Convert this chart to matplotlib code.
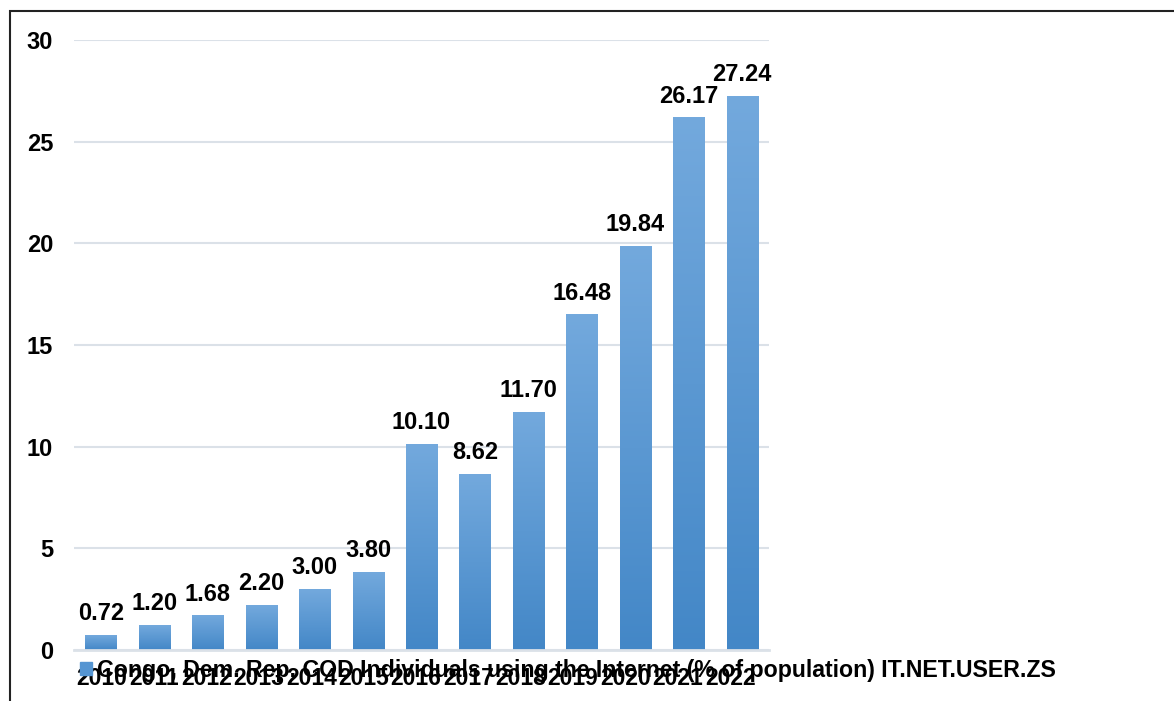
import numpy as np
import matplotlib
matplotlib.use('Agg')
import matplotlib.pyplot as plt
from matplotlib.colors import LinearSegmentedColormap
from matplotlib.patches import Rectangle
from matplotlib import font_manager

plt.rcParams['font.family'] = ['Liberation Sans', 'DejaVu Sans']
plt.rcParams['font.weight'] = 'bold'

years = ['2010', '2011', '2012', '2013', '2014', '2015', '2016',
         '2017', '2018', '2019', '2020', '2021', '2022']
values = [0.72, 1.20, 1.68, 2.20, 3.00, 3.80, 10.10,
          8.62, 11.70, 16.48, 19.84, 26.17, 27.24]
series_name = 'Congo, Dem. Rep. COD Individuals using the Internet (% of population) IT.NET.USER.ZS'

# the year labels use a narrow face in the source; look for one
narrow = None
for fam in ['Liberation Sans Narrow', 'Noto Sans', 'Open Sans', 'Roboto']:
    fp = font_manager.FontProperties(family=fam, stretch='condensed', weight='bold')
    try:
        path = font_manager.findfont(fp, fallback_to_default=False)
    except ValueError:
        continue
    if 'ondensed' in path or 'Narrow' in path:
        narrow = fp
        break

fig = plt.figure(figsize=(11.74, 7.01), dpi=100)
ax = fig.add_axes([74/1174, 1 - 650/701, 695/1174, 610/701])

x = np.arange(len(years))
bar_w = 0.58

# gradient fill, dark at the bottom, light at the top
cmap = LinearSegmentedColormap.from_list('bluegrad', ['#4387c7', '#73a9dd'])
grad = np.linspace(0, 1, 256).reshape(-1, 1)
bars = ax.bar(x, values, width=bar_w, color='none', zorder=2)
for b, v in zip(bars, values):
    ax.imshow(grad, cmap=cmap, origin='lower', aspect='auto', zorder=2,
              extent=[b.get_x(), b.get_x() + bar_w, 0, v])
    ax.annotate(f'{v:.2f}', (b.get_x() + bar_w / 2, v), xytext=(0, 11),
                textcoords='offset points', ha='center', va='baseline',
                fontsize=17, fontweight='bold', color='black')

ax.set_xlim(-0.5, len(years) - 0.5)
ax.set_ylim(0, 30)
ax.set_yticks([0, 5, 10, 15, 20, 25, 30])
ax.yaxis.grid(True, color='#dbe1e8', linewidth=1.5, zorder=0)
ax.set_axisbelow(True)
for s in ['top', 'right', 'left']:
    ax.spines[s].set_visible(False)
ax.spines['bottom'].set_color('#dbe1e8')
ax.spines['bottom'].set_linewidth(2)
ax.tick_params(axis='both', length=0)
ax.tick_params(axis='y', pad=15, labelsize=17)
for lab in ax.get_yticklabels():
    lab.set_fontweight('bold')

# year labels are squeezed a little tighter than the bars in the source
ax.set_xticks(0.024 + 0.979 * x)
if narrow is not None:
    ax.set_xticklabels(years, fontproperties=narrow)
    for lab in ax.get_xticklabels():
        lab.set_fontsize(20)
else:
    ax.set_xticklabels(years, fontweight='bold', fontsize=16.5)
ax.tick_params(axis='x', pad=12)

# legend drawn over the tick labels, as in the source
fig.patches.append(Rectangle((80/1174, 1 - 675/701), 12/1174, 13/701,
                             transform=fig.transFigure, color='#5595d2'))
fig.text(97/1174, 1 - 677/701, series_name, fontsize=16.7, fontweight='bold',
         va='baseline', ha='left')

# outer frame, cut at the right and bottom
fig.patches.append(Rectangle((10/1174, -0.2), 1.2, 1.2 - 11/701,
                             transform=fig.transFigure, fill=False,
                             edgecolor='#222222', linewidth=1.5))

fig.savefig('out.png', dpi=100)
